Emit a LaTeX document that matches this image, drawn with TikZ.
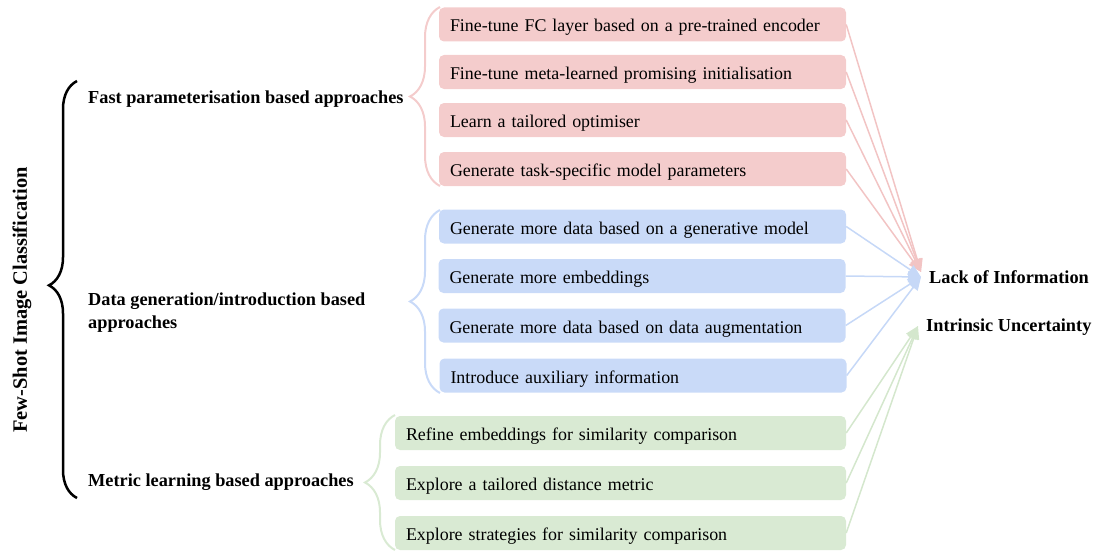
\documentclass[tikz,border=0pt]{standalone}
\usepackage{fontspec}
\setmainfont{Liberation Serif}
\usetikzlibrary{arrows.meta,decorations.pathreplacing}
\definecolor{redfill}{HTML}{F4CCCC}
\definecolor{bluefill}{HTML}{C9DAF8}
\definecolor{greenfill}{HTML}{D9EAD3}
\definecolor{redline}{HTML}{F2C4C4}
\definecolor{blueline}{HTML}{C6D8F7}
\definecolor{greenline}{HTML}{D4E7CD}
\tikzset{
  box/.style={rectangle, rounded corners=5pt, draw=none, minimum height=34pt,
    inner xsep=11pt, inner ysep=0pt, align=left, text height=17pt, text depth=2pt,
    font=\fontsize{17.9}{22}\selectfont},
  redbox/.style={box, fill=redfill, text width=385pt},
  bluebox/.style={box, fill=bluefill, text width=385pt},
  greenbox/.style={box, fill=greenfill, text width=429pt},
  catlabel/.style={anchor=west, align=left, inner sep=0pt,
    font=\fontsize{18.3}{23}\selectfont\bfseries},
  bracestyle/.style={decorate, decoration={brace, amplitude=30pt}, line width=2pt},
  link/.style={line width=1.5pt, -{Triangle[length=13pt,width=11pt]}},
}
\begin{document}
\begin{tikzpicture}[x=1pt,y=-1pt]
\useasboundingbox (0,0) rectangle (1094,551);

% title and main brace
\node[rotate=90, inner sep=0pt, font=\fontsize{20.4}{24}\selectfont\bfseries] (title) at (22,300) {Few-Shot Image Classification};
\draw[decorate, decoration={brace, amplitude=28pt, aspect=0.51}, line width=2.5pt] (77,498) -- (77,81);

% category labels
\node[catlabel] (fast) at (88,99.5) {Fast parameterisation based approaches};
\node[catlabel] (data) at (88,312.5) {Data generation/introduction based\\approaches};
\node[catlabel] (metric) at (88,482) {Metric learning based approaches};

% fast parameterisation group
\draw[bracestyle, draw=redfill] (440,186) -- (440,7);
\node[redbox] (r1) at (642.5,24.5) {Fine-tune FC layer based on a pre-trained encoder};
\node[redbox] (r2) at (642.5,72) {Fine-tune meta-learned promising initialisation};
\node[redbox] (r3) at (642.5,120) {Learn a tailored optimiser};
\node[redbox] (r4) at (642.5,169) {Generate task-specific model parameters};

% data generation group
\draw[bracestyle, draw=bluefill] (440,393) -- (440,210);
\node[bluebox] (b1) at (642.5,226.5) {Generate more data based on a generative model};
\node[bluebox] (b2) at (642,276) {Generate more embeddings};
\node[bluebox] (b3) at (642,325.5) {Generate more data based on data augmentation};
\node[bluebox] (b4) at (643,375.5) {Introduce auxiliary information};

% metric learning group
\draw[bracestyle, draw=greenfill] (395,550) -- (395,415);
\node[greenbox] (g1) at (620.5,433) {Refine embeddings for similarity comparison};
\node[greenbox] (g2) at (620.5,483) {Explore a tailored distance metric};
\node[greenbox] (g3) at (620.5,533) {Explore strategies for similarity comparison};

% challenges
\node[catlabel] (lack) at (929,277) {Lack of Information};
\node[catlabel] (unc) at (926,327.5) {Intrinsic Uncertainty};
\coordinate (lackR) at (921,272);
\coordinate (lackB) at (921,277);
\coordinate (uncG) at (918,326);

\foreach \n in {r1,r2,r3,r4} \draw[link, redline] (\n.east) -- (lackR);
\foreach \n in {b1,b2,b3,b4} \draw[link, blueline] (\n.east) -- (lackB);
\foreach \n in {g1,g2,g3} \draw[link, greenline] (\n.east) -- (uncG);
\end{tikzpicture}
\end{document}
